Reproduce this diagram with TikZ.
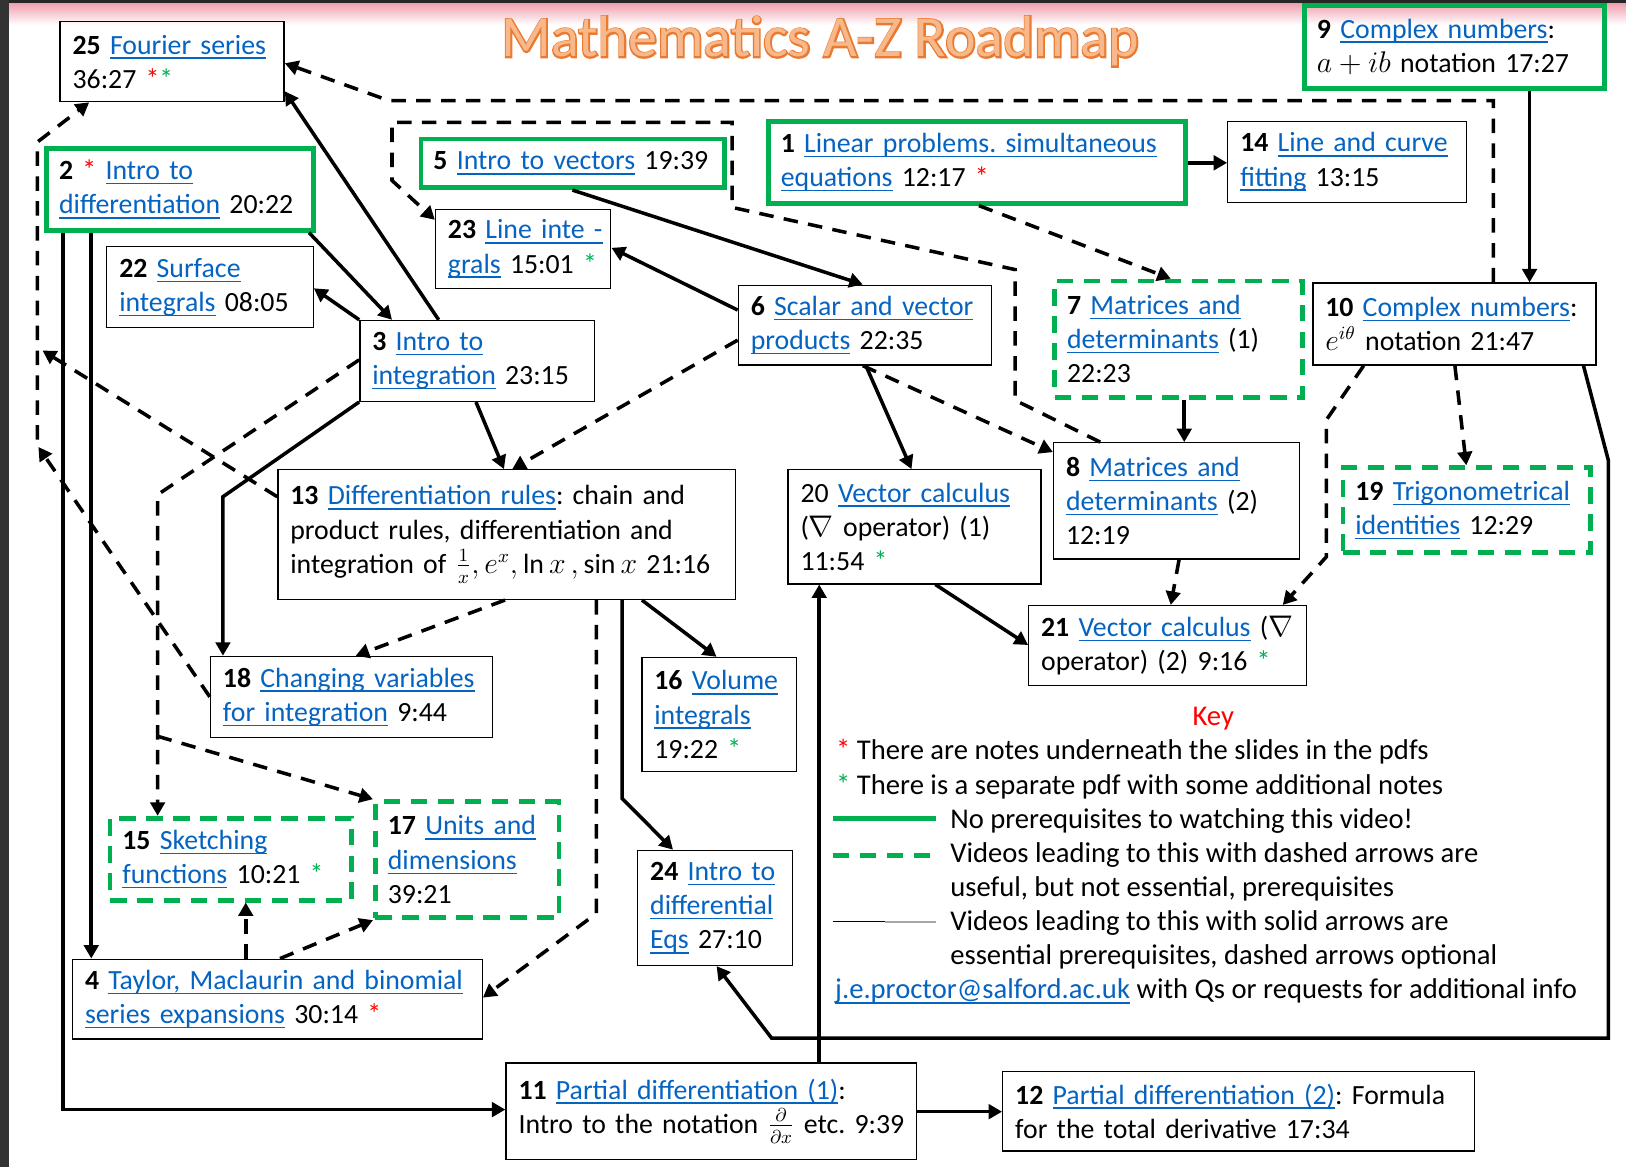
\documentclass[tikz,border=0pt]{standalone}
\usepackage{fontspec}
\setmainfont{Carlito}
\newfontfamily\titleout{Carlito}[FakeBold=5]
\usetikzlibrary{arrows.meta}
\definecolor{lblue}{HTML}{0563C1}
\definecolor{grn}{HTML}{00B050}
\definecolor{tfill}{HTML}{F7B98C}
\definecolor{tline}{HTML}{EB7A30}
\definecolor{bandpink}{HTML}{EFA0AE}
\newcommand\rstar{\textcolor{red}{*}}
\newcommand\gstar{\textcolor{grn}{*}}
\newcommand\mylink[1]{\textcolor{lblue}{\setbox0\hbox{#1}\rlap{\rule[-2.3pt]{\wd0}{0.7pt}}\box0}}
\newcommand\mkbox[7]{%
  \pgfmathsetmacro\mkw{(#5-#3)*0.5}%
  \pgfmathsetmacro\mkh{(#6-#4)*0.5}%
  \pgfmathsetmacro\mktw{(#5-#3)*0.5-12}%
  \pgfmathsetmacro\mkx{(#3+#5)/2}%
  \pgfmathsetmacro\mky{(#4+#6)/2}%
  \node[#1, minimum width=\mkw pt, minimum height=\mkh pt, text width=\mktw pt] (#2) at (\mkx,\mky) {#7};}
\tikzset{
  bodyfont/.style={font=\fontsize{13.8}{16.5}\selectfont\frenchspacing},
  boxfont/.style={font=\fontsize{13.4}{16.5}\selectfont\frenchspacing},
  bx/.style={draw=black, line width=0.65pt, inner xsep=6pt, inner ysep=0pt, align=left, boxfont},
  gbx/.style={bx, draw=grn, line width=2.3pt},
  gdbx/.style={bx, draw=grn, line width=2.3pt, dash pattern=on 8pt off 5pt},
  sol/.style={line width=1.7pt, -{Triangle[length=6.5pt,width=7pt]}},
  dsh/.style={sol, dash pattern=on 7pt off 5pt},
  keytxt/.style={bodyfont, anchor=west, align=left, inner sep=0pt}
}
\begin{document}
\frenchspacing
\begin{tikzpicture}[x=0.5pt,y=-0.5pt]
\useasboundingbox (0,0) rectangle (1568,1125);
\fill[white] (0,0) rectangle (1568,1125);
\shade[top color=bandpink, bottom color=white] (0,3) rectangle (1568,24);
\fill[black!85] (0,0) rectangle (1568,3);
\fill[black!80] (0,0) rectangle (9,1125);

% title
\node[text=tline, font=\titleout\fontsize{28}{30}\selectfont] (ttlo) at (791,40) {Mathematics A-Z Roadmap};
\node[text=tfill, font=\fontsize{28}{30}\selectfont] (ttl) at (791,40) {Mathematics A-Z Roadmap};

% boxes
\mkbox{bx}{n25}{58}{21}{274}{98}{\mbox{\textbf{25} \mylink{Fourier series}}\\\mbox{36:27 \rstar\gstar}}
\mkbox{gbx}{n9}{1258}{5}{1547}{85}{\mbox{\textbf{9} \mylink{Complex numbers}:}\\\mbox{$a+ib$ notation 17:27}}
\mkbox{gbx}{n2}{45}{143}{302}{222}{\mbox{\textbf{2} \rstar\ \mylink{Intro to}}\\\mbox{\mylink{differentiation} 20:22}}
\mkbox{gbx}{n5}{406}{134}{699}{181}{\mbox{\textbf{5} \mylink{Intro to vectors} 19:39}}
\mkbox{gbx}{n1}{741}{117}{1143}{196}{\mbox{\textbf{1} \mylink{Linear problems. simultaneous}}\\\mbox{\mylink{equations} 12:17 \rstar}}
\mkbox{bx}{n14}{1184}{117}{1414}{195}{\mbox{\textbf{14} \mylink{Line and curve}}\\\mbox{\mylink{fitting} 13:15}}
\mkbox{bx}{n23}{420}{202}{589}{278}{\mbox{\textbf{23} \mylink{Line inte -}}\\\mbox{\mylink{grals} 15:01 \gstar}}
\mkbox{bx}{n22}{103}{238}{302}{316}{\mbox{\textbf{22} \mylink{Surface}}\\\mbox{\mylink{integrals} 08:05}}
\mkbox{bx}{n3}{347}{309}{573}{387}{\mbox{\textbf{3} \mylink{Intro to}}\\\mbox{\mylink{integration} 23:15}}
\mkbox{bx}{n6}{712}{275}{956}{352}{\mbox{\textbf{6} \mylink{Scalar and vector}}\\\mbox{\mylink{products} 22:35}}
\mkbox{gdbx}{n7}{1017}{271}{1256}{383}{\mbox{\textbf{7} \mylink{Matrices and}}\\\mbox{\mylink{determinants} (1)}\\\mbox{22:23}}
\mkbox{bx}{n10}{1266}{273}{1539}{352}{\mbox{\textbf{10} \mylink{Complex numbers}:}\\\mbox{$e^{i\theta}$ notation 21:47}}
\mkbox{bx}{n13}{268}{453}{709}{578}{\mbox{\textbf{13} \mylink{Differentiation rules}: chain and}\\\mbox{product rules, differentiation and}\\\mbox{integration of $\frac{1}{x}, e^x, \ln x\,, \sin x$ 21:16}}
\mkbox{bx}{n20}{760}{453}{1004}{563}{\mbox{20 \mylink{Vector calculus}}\\\mbox{($\nabla$ operator) (1)}\\\mbox{11:54 \gstar}}
\mkbox{bx}{n8}{1016}{427}{1253}{539}{\mbox{\textbf{8} \mylink{Matrices and}}\\\mbox{\mylink{determinants} (2)}\\\mbox{12:19}}
\mkbox{gdbx}{n19}{1295}{451}{1534}{533}{\mbox{\textbf{19} \mylink{Trigonometrical}}\\\mbox{\mylink{identities} 12:29}}
\mkbox{bx}{n21}{992}{584}{1260}{661}{\mbox{\textbf{21} \mylink{Vector calculus} ($\nabla$}\\\mbox{operator) (2) 9:16 \gstar}}
\mkbox{bx}{n18}{203}{633}{475}{711}{\mbox{\textbf{18} \mylink{Changing variables}}\\\mbox{\mylink{for integration} 9:44}}
\mkbox{bx}{n16}{619}{634}{768}{744}{\mbox{\textbf{16} \mylink{Volume}}\\\mbox{\mylink{integrals}}\\\mbox{19:22 \gstar}}
\mkbox{gdbx}{n15}{106}{789}{339}{868}{\mbox{\textbf{15} \mylink{Sketching}}\\\mbox{\mylink{functions} 10:21 \gstar}}
\mkbox{gdbx}{n17}{362}{773}{539}{885}{\mbox{\textbf{17} \mylink{Units and}}\\\mbox{\mylink{dimensions}}\\\mbox{39:21}}
\mkbox{bx}{n24}{615}{820}{764}{931}{\mbox{\textbf{24} \mylink{Intro to}}\\\mbox{\mylink{differential}}\\\mbox{\mylink{Eqs} 27:10}}
\mkbox{bx}{n4}{70}{925}{465}{1002}{\mbox{\textbf{4} \mylink{Taylor, Maclaurin and binomial}}\\\mbox{\mylink{series expansions} 30:14 \rstar}}
\mkbox{bx}{n11}{488}{1025}{884}{1118}{\mbox{\textbf{11} \mylink{Partial differentiation (1)}:}\\\mbox{Intro to the notation $\frac{\partial}{\partial x}$ etc. 9:39}}
\mkbox{bx}{n12}{967}{1033}{1422}{1110}{\mbox{\textbf{12} \mylink{Partial differentiation (2)}: Formula}\\\mbox{for the total derivative 17:34}}

% helper coordinates
\coordinate (c13) at (41,338);
\coordinate (c18) at (37,431);
\coordinate (cv) at (36,424);
\coordinate (j3) at (152,710);

% connectors
\draw[dsh] (1440,0 |- n10.north) -- (1440,97) -- (375,97) -- (n25.east |- 0,61);
\draw[dsh] (1061,0 |- n8.north) -- (979,386) -- (979,260) -- (706,200) -- (706,118) -- (378,118) -- (378,174) -- (n23.west |- 0,212);
\draw[dsh] (n13.west |- 0,479) -- (c13);
\draw[dsh] (n18.west |- 0,672) -- (c18);
\draw[dsh] (cv) -- (36,137) -- (86,0 |- n25.south);
\draw[sol] (61,0 |- n2.south) -- (61,1070) -- (n11.west |- 0,1070);
\draw[sol] (88,0 |- n2.south) -- (88,0 |- n4.north);
\draw[sol] (298,0 |- n2.south) -- (378,0 |- n3.north);
\draw[sol] (423,0 |- n3.north) -- (n25.east |- 0,88);
\draw[sol] (n3.north west) -- (n22.east |- 0,278);
\draw[sol] (552,0 |- n5.south) -- (832,0 |- n6.north);
\draw[sol] (n6.west |- 0,299) -- (n23.east |- 0,239);
\draw[dsh] (n6.west |- 0,328) -- (494,0 |- n13.north);
\draw[sol] (459,0 |- n3.south) -- (486,0 |- n13.north);
\draw[sol] (n3.south west) -- (215,479) -- (215,0 |- n18.north);
\draw[dsh] (n3.west |- 0,347) -- (152,477) -- (152,0 |- n15.north);
\draw[dsh] (j3) -- (n17.north west);
\draw[dsh] (487,0 |- n13.south) -- (343,0 |- n18.north);
\draw[dsh] (575,0 |- n13.south) -- (575,881) -- (n4.east |- 0,962);
\draw[sol] (600,0 |- n13.south) -- (600,770) -- (649,0 |- n24.north);
\draw[sol] (619,0 |- n13.south) -- (691,0 |- n16.north);
\draw[dsh] (237,0 |- n4.north) -- (237,0 |- n15.south);
\draw[dsh] (270,0 |- n4.north) -- (n17.south west);
\draw[sol] (n1.east |- 0,157) -- (n14.west |- 0,157);
\draw[sol] (1475,0 |- n9.south) -- (1475,0 |- n10.north);
\draw[dsh] (944,0 |- n1.south) -- (1129,0 |- n7.north);
\draw[sol] (1142,0 |- n7.south) -- (1142,0 |- n8.north);
\draw[dsh] (832,0 |- n6.south) -- (n8.west |- 0,436);
\draw[sol] (835,0 |- n6.south) -- (879,0 |- n20.north);
\draw[dsh] (1137,0 |- n8.south) -- (1129,0 |- n21.north);
\draw[sol] (902,0 |- n20.south) -- (n21.west |- 0,622);
\draw[dsh] (1315,0 |- n10.south) -- (1279,405) -- (1279,537) -- (1237,0 |- n21.north);
\draw[dsh] (1403,0 |- n10.south) -- (1414,0 |- n19.north);
\draw[sol] (1527,0 |- n10.south) -- (1551,444) -- (1551,1001) -- (744,1001) -- (691,0 |- n24.south);
\draw[sol] (n11.east |- 0,1072) -- (n12.west |- 0,1072);
\draw[sol] (790,0 |- n11.north) -- (790,0 |- n20.south);

% key
\node[bodyfont, text=red] (key) at (1170,693) {Key};
\node[keytxt] (k1) at (806,725) {\rstar\ There are notes underneath the slides in the pdfs};
\node[keytxt] (k2) at (806,759) {\gstar\ There is a separate pdf with some additional notes};
\draw[grn, line width=2.3pt] (803,789) -- (903,789);
\draw[grn, line width=2.3pt, dash pattern=on 8pt off 5pt] (803,825) -- (905,825);
\draw[black, line width=0.5pt] (803,889) -- (853,889);
\draw[black!35, line width=0.6pt] (853,889) -- (903,889);
\node[keytxt] (k3) at (916,792) {No prerequisites to watching this video!};
\node[keytxt] (k4) at (916,841) {Videos leading to this with dashed arrows are\\useful, but not essential, prerequisites};
\node[keytxt] (k5) at (916,906) {Videos leading to this with solid arrows are\\essential prerequisites, dashed arrows optional};
\node[keytxt] (k6) at (805,956) {\mylink{j.e.proctor@salford.ac.uk} with Qs or requests for additional info};
\end{tikzpicture}
\end{document}
